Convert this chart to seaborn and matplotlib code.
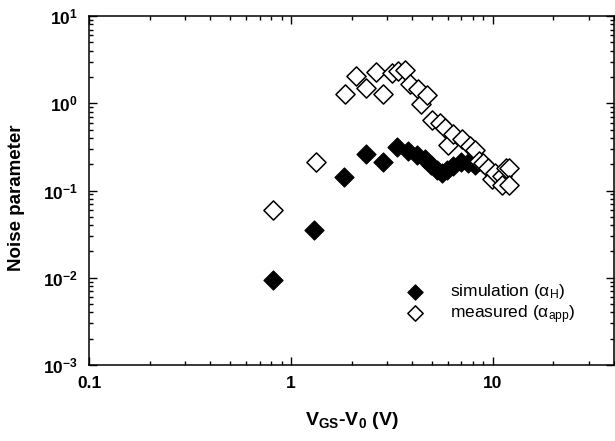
import pandas as pd
import matplotlib
matplotlib.use('Agg')
import matplotlib.pyplot as plt
from matplotlib.ticker import LogLocator, FixedLocator, FixedFormatter, NullFormatter
import seaborn as sns

# values
sim_x = [0.82, 1.30, 1.84, 2.36, 2.88, 3.35, 3.83, 4.2, 4.62, 4.95, 5.3, 5.6,
         5.95, 6.4, 7.0, 7.6, 8.2]
sim_y = [0.0093, 0.035, 0.144, 0.264, 0.214, 0.318, 0.285, 0.255, 0.227, 0.195,
         0.172, 0.158, 0.17, 0.19, 0.21, 0.205, 0.195]

meas_x = [0.82, 1.33, 1.86, 2.1, 2.36, 2.64, 2.88, 3.16, 3.41, 3.67, 3.9, 4.29,
          4.42, 4.71, 4.99, 5.48, 5.81, 6.04, 6.39, 7.03, 7.72, 8.17, 8.6, 9.0,
          9.5, 9.9, 10.3, 11.1, 11.1, 11.7, 12.1, 12.0]
meas_y = [0.059, 0.214, 1.27, 2.03, 1.51, 2.31, 1.29, 2.25, 2.35, 2.4, 1.66, 1.47,
          0.97, 1.25, 0.65, 0.60, 0.52, 0.33, 0.45, 0.39, 0.32, 0.29, 0.22, 0.208,
          0.18, 0.134, 0.16, 0.146, 0.117, 0.18, 0.18, 0.117]

x_ticks = [0.1, 1, 10]
x_ticklabels = ['0.1', '1', '10']

sim = pd.DataFrame({'x': sim_x, 'y': sim_y})
meas = pd.DataFrame({'x': meas_x, 'y': meas_y})

sns.set_style('ticks', rc={'axes.edgecolor': 'black', 'text.color': 'black',
                           'axes.labelcolor': 'black', 'xtick.color': 'black',
                           'ytick.color': 'black'})
plt.rcParams['font.family'] = ['Liberation Sans', 'DejaVu Sans']
plt.rcParams['axes.linewidth'] = 1.1

fig = plt.figure(figsize=(6.15, 4.41), dpi=100)
ax = fig.add_axes([89 / 615, 1 - 365 / 441, 525 / 615, 349 / 441])

sns.scatterplot(data=sim, x='x', y='y', marker='D', s=95, color='black',
                edgecolor='black', linewidth=0.8, ax=ax,
                label=r'simulation ($\mathdefault{\alpha_{H}}$)')
sns.scatterplot(data=meas, x='x', y='y', marker='D', s=95, color='white',
                edgecolor='black', linewidth=1.1, ax=ax,
                label=r'measured ($\mathdefault{\alpha_{app}}$)')

ax.set_xscale('log')
ax.set_yscale('log')
ax.set_xlim(0.1, 40)
ax.set_ylim(1e-3, 10)

ax.xaxis.set_major_locator(FixedLocator(x_ticks))
ax.xaxis.set_major_formatter(FixedFormatter(x_ticklabels))
ax.xaxis.set_minor_locator(LogLocator(base=10, subs=range(2, 10)))
ax.xaxis.set_minor_formatter(NullFormatter())
ax.yaxis.set_major_locator(LogLocator(base=10, numticks=10))
ax.yaxis.set_minor_locator(LogLocator(base=10, subs=range(2, 10), numticks=20))
ax.yaxis.set_minor_formatter(NullFormatter())

ax.tick_params(which='both', direction='in', top=True, right=True, width=1.0,
               color='black', labelcolor='black')
ax.tick_params(which='major', length=6, pad=8)
ax.tick_params(which='minor', length=3)
for lab in ax.get_xticklabels() + ax.get_yticklabels():
    lab.set_fontweight('bold')
    lab.set_fontsize(12.5)

ax.set_xlabel(r'$\mathdefault{V_{GS}}$-$\mathdefault{V_{0}}$ (V)',
              fontsize=14, fontweight='bold', color='black')
ax.set_ylabel('Noise parameter', fontsize=13.5, fontweight='bold', color='black')
ax.xaxis.set_label_coords(0.5, -0.13)
ax.yaxis.set_label_coords(-0.122, 0.48)

leg = ax.legend(loc='center left', bbox_to_anchor=(0.572, 0.175), frameon=False,
                fontsize=12.5, handletextpad=1.0, labelspacing=0.1,
                markerscale=0.8, borderpad=0, labelcolor='black')

fig.savefig('out.png', dpi=100)
